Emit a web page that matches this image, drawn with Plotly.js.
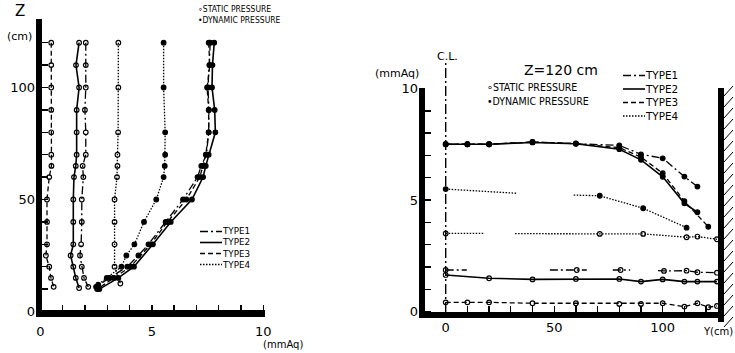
<!DOCTYPE html>
<html><head><meta charset="utf-8">
<script src="https://cdn.plot.ly/plotly-3.0.1.min.js"></script>
<style>html,body{margin:0;padding:0;background:#fff}</style>
</head><body><div id="chart" style="width:735px;height:353px"></div>
<script>
// ---------- DATA ----------
// Left chart: vertical profiles, Z (cm) vs pressure (mmAq)
const typeNames = ['TYPE1', 'TYPE2', 'TYPE3', 'TYPE4'];
const pressureNames = ['STATIC PRESSURE', 'DYNAMIC PRESSURE'];

const zStatic1 = [120,110,100,90,80,70,65,60,50,40,30,25,20,15,11];
const pStatic1 = [2.04,2.04,2.04,2.0,2.04,2.04,1.9,1.93,1.86,1.86,1.83,1.78,1.86,1.96,2.15];
const zStatic2 = [120,110,100,90,80,70,65,60,50,40,30,25,20,15,10.5];
const pStatic2 = [1.74,1.6,1.74,1.63,1.63,1.63,1.59,1.51,1.48,1.48,1.48,1.36,1.48,1.59,1.74];
const zStatic3 = [120,110,100,90,80,70,65,60,50,40,30,25,20,15,11];
const pStatic3 = [0.49,0.49,0.49,0.49,0.49,0.49,0.5,0.4,0.3,0.3,0.3,0.25,0.4,0.48,0.6];
const zStatic4 = [120,100,80,70,65,60,50,40,30,20,12.5];
const pStatic4 = [3.5,3.5,3.49,3.46,3.46,3.44,3.33,3.33,3.33,3.33,3.59];

const zDynamic1 = [120,110,100,90,80,70,65,60,50,40,30,25,20,15,11];
const pDynamic1 = [7.62,7.58,7.52,7.56,7.55,7.45,7.22,7.05,6.4,5.62,4.85,4.4,3.9,3.1,2.5];
const zDynamic2 = [120,110,100,90,80,70,65,60,50,40,30,20,15,10];
const pDynamic2 = [7.8,7.72,7.7,7.82,7.85,7.55,7.42,7.3,6.8,5.85,5.05,4.2,3.5,2.65];
const zDynamic3 = [120,110,100,90,80,70,65,60,50,40,30,20,15,10];
const pDynamic3 = [7.55,7.6,7.48,7.55,7.55,7.42,7.3,7.15,6.55,5.7,4.95,4.05,3.3,2.55];
const zDynamic4 = [120,100,80,70,65,60,50,40,30,25,20,15,12];
const pDynamic4 = [5.53,5.53,5.6,5.6,5.58,5.53,5.2,4.65,4.22,3.86,3.64,2.98,2.6];

// Right chart: lateral distribution at Z = 120 cm, pressure vs Y (cm)
// null = gap in the drawn line; mask 0 = line end without a measured point
const yStatic1 = [0,9.7,null,48,60.4,65,null,77,80.6,85,null,97.8,100.6,111,116,125];
const qStatic1 = [1.86,1.86,null,1.86,1.86,1.86,null,1.86,1.86,1.86,null,1.83,1.82,1.83,1.76,1.74];
const mStatic1 = [1,0,0,0,1,0,0,0,1,0,0,0,1,1,1,1];
const yStatic2 = [0,20,40,60,80,90,100,110,116,125];
const qStatic2 = [1.64,1.49,1.44,1.46,1.46,1.34,1.44,1.34,1.34,1.34];
const yStatic3 = [0,10,20,40,60,80,90,100,110,116,121,125];
const qStatic3 = [0.41,0.41,0.41,0.37,0.37,0.34,0.34,0.37,0.22,0.37,0.19,0.25];
const yStatic4 = [0,18,null,32,71,91,111,116,125];
const qStatic4 = [3.5,3.5,null,3.49,3.48,3.48,3.33,3.36,3.24];
const mStatic4 = [1,0,0,0,1,1,1,1,1];

const yDynamic1 = [0,10,20,40,60,80,90,100,110,116];
const qDynamic1 = [7.5,7.5,7.5,7.6,7.54,7.45,7.05,6.87,6.05,5.6];
const yDynamic2 = [0,10,20,40,60,80,90,100,110,116];
const qDynamic2 = [7.5,7.5,7.5,7.58,7.52,7.28,6.8,6.04,4.85,4.45];
const yDynamic3 = [0,10,20,40,60,80,90,100,110,121];
const qDynamic3 = [7.5,7.5,7.5,7.6,7.53,7.35,6.92,6.2,4.95,3.8];
const yDynamic4 = [0,33,null,59,71,91,111];
const qDynamic4 = [5.49,5.3,null,5.22,5.19,4.63,3.76];
const mDynamic4 = [1,0,0,0,1,1,1];

const leftXTicks = [0,1,2,3,4,5,6,7,8,9,10];
const leftXLabels = ['0','','','','','5','','','','','10'];
const leftYTicks = [0,10,20,30,40,50,60,70,80,90,100,110,120];
const leftYLabels = ['0','','','','','50','','','','','100','',''];
const rightXTicks = [0,10,20,30,40,50,60,70,80,90,100,110,120];
const rightXLabels = ['0','','','','','50','','','','','100','',''];
const rightYTicks = [0,1,2,3,4,5,6,7,8,9,10];
const rightYLabels = ['0','','','','','5','','','','','10'];

// ---------- STYLE ----------
const W = 735, H = 353;
const fx = p => p / W;
const fy = p => 1 - p / H;
const COND = "'DejaVu Sans Condensed', 'Liberation Sans Narrow', sans-serif";
const SANS = "'DejaVu Sans', sans-serif";
const TICKFONT = {family: SANS, size: 13, color: '#000'};
const dashes = ['8px,3px,2px,3px', 'solid', '5px,3px', '1.5px,1.5px'];
const lw = 1.3;
const MSIZE = 4.6;

function lineTrace(x, y, t, axes) {
  return {
    type: 'scatter', mode: 'lines', x: x, y: y,
    xaxis: axes[0], yaxis: axes[1], showlegend: false, cliponaxis: false,
    connectgaps: false, hoverinfo: 'skip',
    line: {color: '#000', width: t === 1 ? 1.6 : lw, dash: dashes[t]},
    name: typeNames[t]
  };
}
function markerTrace(x, y, t, dyn, axes, mask) {
  const xs = mask ? x.filter((v, i) => mask[i]) : x;
  const ys = mask ? y.filter((v, i) => mask[i]) : y;
  return {
    type: 'scatter', mode: 'markers', x: xs, y: ys,
    xaxis: axes[0], yaxis: axes[1], showlegend: false, cliponaxis: false,
    hoverinfo: 'skip',
    marker: {
      symbol: dyn ? 'circle' : 'circle-open',
      size: MSIZE, color: '#000', opacity: 1,
      line: {color: '#000', width: 1.2}
    },
    name: typeNames[t] + ' ' + pressureNames[dyn ? 1 : 0]
  };
}
const L = ['x', 'y'], R = ['x2', 'y2'];
const series = [
  [pStatic1, zStatic1, 0, false, L], [pStatic2, zStatic2, 1, false, L],
  [pStatic3, zStatic3, 2, false, L], [pStatic4, zStatic4, 3, false, L],
  [pDynamic1, zDynamic1, 0, true, L], [pDynamic2, zDynamic2, 1, true, L],
  [pDynamic3, zDynamic3, 2, true, L], [pDynamic4, zDynamic4, 3, true, L],
  [yStatic1, qStatic1, 0, false, R, mStatic1], [yStatic2, qStatic2, 1, false, R],
  [yStatic3, qStatic3, 2, false, R], [yStatic4, qStatic4, 3, false, R, mStatic4],
  [yDynamic1, qDynamic1, 0, true, R], [yDynamic2, qDynamic2, 1, true, R],
  [yDynamic3, qDynamic3, 2, true, R], [yDynamic4, qDynamic4, 3, true, R, mDynamic4]
];
const data = [];
series.forEach(s => data.push(lineTrace(s[0], s[1], s[2], s[4])));
series.forEach(s => data.push(markerTrace(s[0], s[1], s[2], s[3], s[4], s[5])));

function axis(domainPx, rangeVals, tickvals, ticktext, anchor, vertical, standoff) {
  return {
    domain: vertical ? [fy(domainPx[0]), fy(domainPx[1])] : [fx(domainPx[0]), fx(domainPx[1])],
    range: rangeVals, anchor: anchor,
    tickmode: 'array', tickvals: tickvals, ticktext: ticktext,
    ticks: 'inside', ticklen: 12, tickwidth: 1.4, tickcolor: '#000',
    ticklabelstandoff: standoff || 0,
    showline: false, zeroline: false, showgrid: false,
    tickfont: TICKFONT, fixedrange: true
  };
}

// pixel calibration of the reference
const lx0 = 40.3, lxs = 22.3, ly0 = 311.5, lys = 2.24;
const rx0 = 445.7, rxs = 2.17, ry0 = 311.5, rys = 22.3;

const layout = {
  width: W, height: H, margin: {l: 0, r: 0, t: 0, b: 0},
  paper_bgcolor: '#fff', plot_bgcolor: 'rgba(0,0,0,0)',
  showlegend: false,
  font: {family: SANS, color: '#000'},
  xaxis: axis([36, 265], [(36 - lx0) / lxs, (265 - lx0) / lxs], leftXTicks, leftXLabels, 'y', false, 5),
  yaxis: axis([317, 19], [(ly0 - 317) / lys, (ly0 - 19) / lys], leftYTicks, leftYLabels, 'x', true, 0),
  xaxis2: axis([419, 718], [(419 - rx0) / rxs, (718 - rx0) / rxs], rightXTicks, rightXLabels, 'y2', false, 0),
  yaxis2: axis([318, 88], [(ry0 - 318) / rys, (ry0 - 88) / rys], rightYTicks, rightYLabels, 'x2', true, 0),
  shapes: [],
  annotations: []
};

function rect(x0, y0, x1, y1) {
  layout.shapes.push({type: 'rect', xref: 'paper', yref: 'paper', x0: fx(x0), x1: fx(x1), y0: fy(y0), y1: fy(y1),
    fillcolor: '#000', line: {width: 0}, layer: 'above'});
}
function seg(x0, y0, x1, y1, dash, width) {
  layout.shapes.push({type: 'line', xref: 'paper', yref: 'paper', x0: fx(x0), x1: fx(x1), y0: fy(y0), y1: fy(y1),
    line: {color: '#000', width: width || lw, dash: dash || 'solid'}, layer: 'above'});
}
function ann(text, x, y, size, xanchor, family, yanchor) {
  layout.annotations.push({text: text, xref: 'paper', yref: 'paper', x: fx(x), y: fy(y),
    xanchor: xanchor || 'left', yanchor: yanchor || 'middle', showarrow: false, align: 'left',
    borderpad: 0, font: {size: size, family: family || COND, color: '#000'}});
}

// axis frames (thick bars)
rect(36, 19, 42, 317);
rect(36, 310, 265, 317);
rect(419, 88, 425, 318);
rect(419, 312, 718, 318);
// wall with hatching
rect(718, 88, 724, 322);
for (let y = 96; y <= 330; y += 11) seg(724, y, 733, y - 10, 'solid', 1);

// centre line (C.L.) at Y = 0
layout.shapes.push({type: 'line', xref: 'x2', yref: 'paper', x0: 0, x1: 0, y0: fy(312), y1: fy(63),
  line: {color: '#000', width: 1.4, dash: '10px,3px,2px,3px'}, layer: 'above'});

// left chart texts
ann('Z', 20, 11, 15, 'center', SANS);
ann('(cm)', 19, 36, 11, 'center', SANS);
ann('(mmAq)', 283, 344, 10, 'center', SANS);
ann('∘STATIC PRESSURE<br>•DYNAMIC PRESSURE', 197, 15, 8.5, 'left', COND);
const legL = [231.5, 242.5, 253.5, 264.5];
typeNames.forEach((n, i) => seg(200, legL[i], 222, legL[i], dashes[i], i === 1 ? 1.6 : lw));
ann(typeNames.join('<br>'), 221, 248, 8.8, 'left', SANS);

// right chart texts
ann('(mmAq)', 397, 73, 11, 'center', SANS);
ann('C.L.', 447, 57, 11, 'center', SANS);
ann('Z=120 cm', 561, 70, 14, 'center', SANS);
ann('∘STATIC PRESSURE<br>•DYNAMIC PRESSURE', 486, 94, 10.5, 'left', COND);
const legR = [75.5, 89, 102.5, 116];
typeNames.forEach((n, i) => seg(623, legR[i], 645, legR[i], dashes[i], i === 1 ? 1.6 : lw));
ann(typeNames.join('<br>'), 644, 95.8, 10.4, 'left', SANS);
ann('Y(cm)', 734, 331, 10, 'right', SANS);

Plotly.newPlot('chart', data, layout, {staticPlot: true, displayModeBar: false});
</script></body></html>
